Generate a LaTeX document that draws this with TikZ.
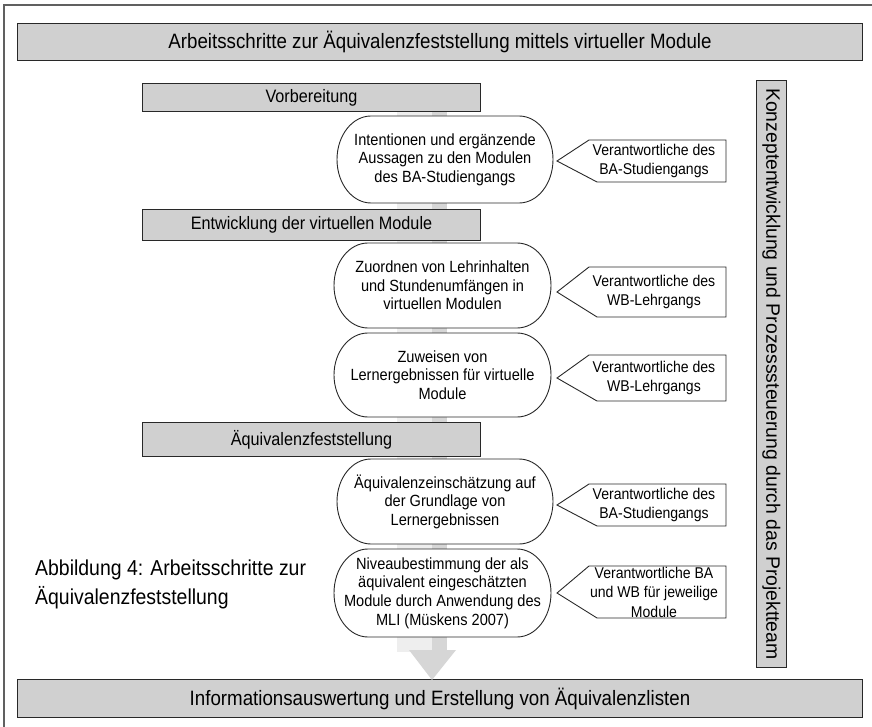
\documentclass[tikz,border=0pt]{standalone}
\usepackage{fontspec}
\setmainfont{Liberation Sans}[FakeStretch=0.9]
\newfontfamily\widefont{Liberation Sans}
\definecolor{boxgray}{RGB}{208,208,208}
\definecolor{linegray}{RGB}{40,40,40}
\definecolor{palegray}{RGB}{238,238,238}
\definecolor{midgray}{RGB}{214,214,214}
\tikzset{
  graybox/.style={draw=linegray, fill=boxgray, line width=1pt},
  ovl/.style={draw=linegray, fill=white, line width=0.9pt},
  callout/.style={draw=linegray, fill=white, line width=0.9pt},
  ovtext/.style={align=center, inner sep=0pt, font=\fontsize{16.2}{18.6}\selectfont},
  cotext/.style={align=center, inner sep=0pt, font=\fontsize{15.6}{19.5}\selectfont},
  bigtext/.style={inner sep=0pt, font=\fontsize{20.8}{24}\selectfont},
  sectext/.style={inner sep=0pt, font=\fontsize{18}{22}\selectfont},
}
\newcommand\ovalnode[6]{%
  \draw[ovl] (#2+34,#3) -- (#4-34,#3)
    arc[start angle=-90,end angle=90,x radius=34,y radius={(#5-#3)/2}]
    -- (#2+34,#5)
    arc[start angle=90,end angle=270,x radius=34,y radius={(#5-#3)/2}] -- cycle;
  \node[ovtext] (#1) at ({(#2+#4)/2},{(#3+#5)/2}) {#6};
}
\newcommand\calloutnode[5]{% name, top, bottom, tip y, text
  \coordinate (#1tip) at (557,#4);
  \draw[callout] (#1tip) -- (589,#2) -- (726,#2) -- (726,#3) -- (597,#3) -- cycle;
  \node[cotext] (#1) at (654,{(#2+#3)/2}) {#5};
}
\begin{document}
\begin{tikzpicture}[x=1pt,y=-1pt]
\useasboundingbox (0,0) rectangle (872,727);
% outer frame
\draw[line width=1.4pt, draw=gray!75!black] (4,730) -- (4,5) -- (875,5);
% title
\node[graybox, minimum width=845pt, minimum height=37pt, anchor=north west] (title) at (17,23) {};
\node[bigtext] (titletext) at (title.center) {Arbeitsschritte zur Äquivalenzfeststellung mittels virtueller Module};
% bottom
\node[graybox, minimum width=845pt, minimum height=38pt, anchor=north west] (bottom) at (17,679) {};
\node[bigtext] (bottomtext) at (bottom.center) {Informationsauswertung und Erstellung von Äquivalenzlisten};
% vertical bar
\node[graybox, minimum width=30pt, minimum height=587pt, anchor=north west] (bar) at (756,80) {};
\node[rotate=-90, inner sep=0pt, font=\widefont\fontsize{19.4}{22}\selectfont] (bartext) at (bar.center) {Konzeptentwicklung und Prozesssteuerung durch das Projektteam};
% background arrow
\fill[palegray] (397,111) rectangle (447,652);
\fill[midgray] (432,111) rectangle (447,652);
\fill[midgray] (409,650) -- (456,650) -- (432,680) -- cycle;
% section boxes
\node[graybox, minimum width=338pt, minimum height=28pt, anchor=north west] (s1) at (142,83) {};
\node[sectext] (s1t) at (s1.center) {Vorbereitung};
\node[graybox, minimum width=338pt, minimum height=31pt, anchor=north west] (s2) at (142,209) {};
\node[sectext] (s2t) at (s2.center) {Entwicklung der virtuellen Module};
\node[graybox, minimum width=338pt, minimum height=34pt, anchor=north west] (s3) at (142,422) {};
\node[sectext] (s3t) at (s3.center) {Äquivalenzfeststellung};
% ovals
\ovalnode{o1}{337}{116}{553}{203}{Intentionen und ergänzende\\Aussagen zu den Modulen\\des BA-Studiengangs}
\ovalnode{o2}{334}{243}{551}{328}{Zuordnen von Lehrinhalten\\und Stundenumfängen in\\virtuellen Modulen}
\ovalnode{o3}{334}{333}{551}{417}{Zuweisen von\\Lernergebnissen für virtuelle\\Module}
\ovalnode{o4}{337}{459}{553}{544}{Äquivalenzeinschätzung auf\\der Grundlage von\\Lernergebnissen}
\ovalnode{o5}{334}{549}{551}{637}{Niveaubestimmung der als\\äquivalent eingeschätzten\\Module durch Anwendung des\\MLI (Müskens 2007)}
% callouts
\calloutnode{c1}{140}{182}{161}{Verantwortliche des\\BA-Studiengangs}
\calloutnode{c2}{267}{317}{292}{Verantwortliche des\\WB-Lehrgangs}
\calloutnode{c3}{355}{401}{378}{Verantwortliche des\\WB-Lehrgangs}
\calloutnode{c4}{484}{526}{505}{Verantwortliche des\\BA-Studiengangs}
\calloutnode{c5}{566}{618}{593}{Verantwortliche BA\\und WB für jeweilige\\Module}
% caption
\node[align=left, anchor=west, inner sep=0pt, font=\fontsize{21.6}{29}\selectfont] (caption) at (35,584) {Abbildung 4: Arbeitsschritte zur\\Äquivalenzfeststellung};
\end{tikzpicture}
\end{document}
